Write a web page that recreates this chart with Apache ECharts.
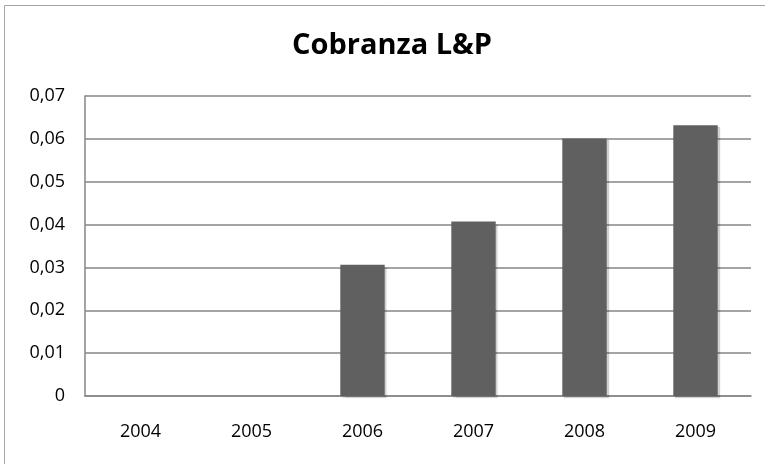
<!DOCTYPE html>
<html>
<head>
<meta charset="utf-8">
<script src="https://cdn.jsdelivr.net/npm/echarts@6/dist/echarts.min.js"></script>
<style>
  html, body { margin: 0; padding: 0; background: #fff; }
  #chart { width: 765px; height: 464px; }
</style>
</head>
<body>
<div id="chart"></div>
<script>
const years = ['2004', '2005', '2006', '2007', '2008', '2009'];
const values = [0, 0, 0.0306, 0.0407, 0.0601, 0.0632];
const yTicks = [0, 0.01, 0.02, 0.03, 0.04, 0.05, 0.06, 0.07];

const chart = echarts.init(document.getElementById('chart'));

const option = {
  animation: false,
  backgroundColor: '#fff',
  title: {
    text: 'Cobranza L&P',
    left: 387,
    top: 26,
    textAlign: 'center',
    textStyle: {
      fontFamily: 'Open Sans',
      fontWeight: 'bold',
      fontSize: 29,
      color: '#000'
    }
  },
  graphic: [
    {
      type: 'rect',
      shape: { x: 4.5, y: 5.5, width: 800, height: 500 },
      style: { fill: 'none', stroke: '#a6a6a6', lineWidth: 1 },
      silent: true
    }
  ],
  grid: {
    left: 85,
    right: 765 - 751,
    top: 96,
    bottom: 464 - 396
  },
  xAxis: {
    type: 'category',
    data: years,
    axisLine: { lineStyle: { color: '#868686', width: 1.5 } },
    axisTick: { show: false },
    axisLabel: {
      color: '#000',
      fontFamily: 'Open Sans',
      fontSize: 18,
      margin: 27
    }
  },
  yAxis: {
    type: 'value',
    min: yTicks[0],
    max: yTicks[yTicks.length - 1],
    interval: 0.01,
    axisLine: { show: true, lineStyle: { color: '#868686', width: 1.5 } },
    axisTick: { show: false },
    axisLabel: {
      color: '#000',
      fontFamily: 'Open Sans',
      fontSize: 18,
      margin: 20,
      formatter: v => String(Math.round(v * 100) / 100).replace('.', ',')
    },
    splitLine: { lineStyle: { color: '#868686', width: 1.5 } }
  },
  series: [
    {
      type: 'bar',
      data: values,
      barCategoryGap: '60%',
      itemStyle: {
        color: '#606060',
        shadowColor: 'rgba(0,0,0,0.18)',
        shadowOffsetX: 2,
        shadowOffsetY: 2,
        shadowBlur: 1
      }
    }
  ]
};

chart.setOption(option);
</script>
</body>
</html>
